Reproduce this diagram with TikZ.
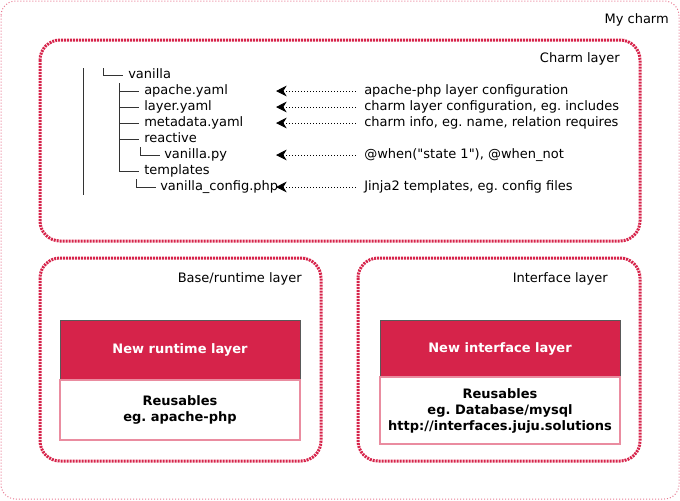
\documentclass[tikz,border=0pt]{standalone}
\usepackage{fontspec}
\setmainfont{DejaVu Sans}[Ligatures=TeXOff]
\usepackage{xcolor}
\usepackage{tikz}
\usetikzlibrary{arrows.meta, positioning}
\frenchspacing

\definecolor{charmred}{RGB}{214,35,74}
\definecolor{charmpink}{RGB}{234,140,160}
\definecolor{outerpink}{RGB}{232,120,145}

\begin{document}
\begin{tikzpicture}[
  x=0.75pt, y=-0.75pt,
  every node/.style={font=\fontsize{9.75pt}{12pt}\selectfont},
  layer/.style={draw=charmred, line width=2.25pt, dash pattern=on 1.5pt off 0.75pt, rounded corners=15pt},
  frame/.style={draw=outerpink, line width=0.75pt, dash pattern=on 0.75pt off 1.5pt, rounded corners=11pt},
  lbl/.style={anchor=east, inner sep=0pt},
  file/.style={anchor=west, inner sep=0pt, text height=7pt, text depth=2pt},
  note/.style={anchor=west, inner sep=0pt, text height=7pt, text depth=2pt},
  head/.style={draw=black!65, fill=charmred, text=white, font=\fontsize{9.75pt}{12pt}\selectfont\bfseries, minimum width=180pt, outer sep=0pt, line width=0.75pt},
  body/.style={draw=charmpink, fill=white, font=\fontsize{9.75pt}{12pt}\selectfont\bfseries, align=center, minimum width=180pt, outer sep=0pt, line width=1pt},
  tree/.style={black!80, line width=0.75pt},
  arr/.style={{Stealth[length=8pt, width=8pt, inset=2.5pt]}-, black, line width=0.75pt, dash pattern=on 0.75pt off 1.5pt, shorten >=5pt}
]
\useasboundingbox (0,0) rectangle (680,500);

% frames
\draw[frame] (1,1) rectangle (679,499);
\draw[layer] (40,40) rectangle (640,241);
\draw[layer] (40,258) rectangle (321,461);
\draw[layer] (358,258) rectangle (640,461);

\node[lbl] (mycharm) at (669,20) {My charm};
\node[lbl] (charmlbl) at (620,59) {Charm layer};
\node[lbl] (baselbl) at (302,279) {Base/runtime layer};
\node[lbl] (ifacelbl) at (608,279) {Interface layer};

% file tree
\node[file] (vanilla) at (128,75) {vanilla};
\node[file] (apache) at (144,91) {apache.yaml};
\node[file] (layeryaml) at (144,107) {layer.yaml};
\node[file] (metadata) at (144,123) {metadata.yaml};
\node[file] (reactive) at (144,139) {reactive};
\node[file] (vanillapy) at (164,155) {vanilla.py};
\node[file] (templates) at (144,171) {templates};
\node[file] (config) at (160,187) {vanilla\_config.php};

\draw[tree] (83,68) -- (83,195);
\draw[tree] (103,68) -- (103,75) -- (123,75);
\draw[tree] (119,83) -- (119,171) -- (139,171);
\foreach \y in {91,107,123,139}
  \draw[tree] (119,\y) -- (139,\y);
\draw[tree] (140,147) -- (140,155) -- (160,155);
\draw[tree] (136,179) -- (136,187) -- (156,187);

% notes
\coordinate (tip) at (276,0);
\node[note] (apachenote) at (364,91) {apache-php layer configuration};
\node[note] (layernote) at (364,107) {charm layer configuration, eg. includes};
\node[note] (metanote) at (364,123) {charm info, eg. name, relation requires};
\node[note] (pynote) at (364,155) {@when("state 1"), @when\_not};
\node[note] (confignote) at (364,187) {Jinja2 templates, eg. config files};

\foreach \n in {apachenote, layernote, metanote, pynote, confignote}
  \draw[arr] (\n.west -| tip) -- (\n.west);

% layer blocks
\node[head, minimum height=45pt] (runtime) at (180,350) {New runtime layer};
\node[body, minimum height=45pt, below=0pt of runtime] (runtimebody) {Reusables\\eg. apache-php};
\node[head, minimum height=42.75pt] (iface) at (500,348.5) {New interface layer};
\node[body, minimum height=50.25pt, below=0pt of iface] (ifacebody) {Reusables\\eg. Database/mysql\\http://interfaces.juju.solutions};
\end{tikzpicture}
\end{document}
